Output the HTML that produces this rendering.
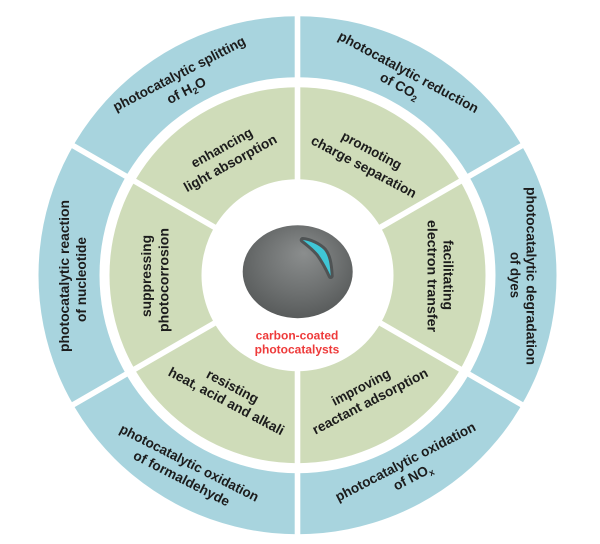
<!DOCTYPE html>
<html>
<head>
<meta charset="utf-8">
<style>
  html, body { margin: 0; padding: 0; background: #ffffff; }
  svg { display: block; }
  .t { font-family: "Liberation Sans", Arial, sans-serif; font-weight: bold; font-size: 13.7px; fill: #1c1c1c; }
  .r { font-family: "Liberation Sans", Arial, sans-serif; font-weight: bold; font-size: 12px; fill: #ee3a3a; }
</style>
</head>
<body>
<svg width="600" height="544" viewBox="0 0 600 544" xmlns="http://www.w3.org/2000/svg">
  <defs>
    <radialGradient id="sph" cx="0.5" cy="0.42" r="0.6" fx="0.56" fy="0.3">
      <stop offset="0" stop-color="#8b8e8e"/>
      <stop offset="0.6" stop-color="#6d7070"/>
      <stop offset="1" stop-color="#575a5a"/>
    </radialGradient>
  </defs>

  <!-- rings -->
  <circle cx="297.5" cy="275.2" r="259" fill="#a8d4de"/>
  <circle cx="297.5" cy="275.2" r="198" fill="#ffffff"/>
  <circle cx="297.5" cy="275.2" r="188" fill="#cfdcb9"/>
  <circle cx="297.5" cy="275.2" r="96" fill="#ffffff"/>

  <!-- segment gaps -->
  <g stroke="#ffffff" stroke-width="5.6">
    <line x1="297.5" y1="0" x2="297.5" y2="544"/>
    <line x1="557.3" y1="125.2" x2="37.7" y2="425.2"/>
    <line x1="37.7" y1="125.2" x2="557.3" y2="425.2"/>
  </g>

  <!-- sphere -->
  <ellipse cx="297.7" cy="271.7" rx="55" ry="46.5" fill="url(#sph)"/>
  <path d="M302.7,240 C310,240.5 319,245 324,250 C328,255 330,262 330.7,276 C328,270 324,262 318.3,254 C314,249 308,244 302.7,240 Z"
        fill="#4f5354" stroke="#4f5354" stroke-width="6" stroke-linejoin="round"/>
  <path d="M302.7,240 C310,240.5 319,245 324,250 C328,255 330,262 330.7,276 C328,270 324,262 318.3,254 C314,249 308,244 302.7,240 Z"
        fill="#3fc6d6"/>

  <text class="r" x="297" y="339.3" text-anchor="middle">carbon-coated</text>
  <text class="r" x="297" y="353.3" text-anchor="middle">photocatalysts</text>

  <g class="t" text-anchor="middle">
    <!-- blue ring -->
    <text transform="translate(181.3 77.8) rotate(-27.4)" textLength="147" lengthAdjust="spacingAndGlyphs">photocatalytic splitting</text>
    <text transform="translate(188.5 94.5) rotate(-27.4)">of H<tspan font-size="9" dy="3">2</tspan><tspan dy="-3">O</tspan></text>

    <text transform="translate(406.3 76.2) rotate(28.3)" textLength="157" lengthAdjust="spacingAndGlyphs">photocatalytic reduction</text>
    <text transform="translate(397.5 90) rotate(28.3)">of CO<tspan font-size="9" dy="3">2</tspan></text>

    <text transform="translate(526.3 276) rotate(90)" textLength="178" lengthAdjust="spacingAndGlyphs">photocatalytic degradation</text>
    <text transform="translate(510.5 275) rotate(90)" textLength="46" lengthAdjust="spacingAndGlyphs">of dyes</text>

    <text transform="translate(68.8 276) rotate(-90)" textLength="152" lengthAdjust="spacingAndGlyphs">photocatalytic reaction</text>
    <text transform="translate(86 279.5) rotate(-90)" textLength="85" lengthAdjust="spacingAndGlyphs">of nucleotide</text>

    <text transform="translate(187.2 467) rotate(27)" textLength="154" lengthAdjust="spacingAndGlyphs">photocatalytic oxidation</text>
    <text transform="translate(179.5 482.5) rotate(27)" textLength="106" lengthAdjust="spacingAndGlyphs">of formaldehyde</text>

    <text transform="translate(407.5 465.8) rotate(-27.4)" textLength="156" lengthAdjust="spacingAndGlyphs">photocatalytic oxidation</text>
    <text transform="translate(415 481) rotate(-27.4)">of NO<tspan font-size="9" dy="3">x</tspan></text>

    <!-- green ring -->
    <text transform="translate(224 151.7) rotate(-29)" textLength="68" lengthAdjust="spacingAndGlyphs">enhancing</text>
    <text transform="translate(232.5 167.2) rotate(-29)" textLength="104" lengthAdjust="spacingAndGlyphs">light absorption</text>

    <text transform="translate(369.5 154.5) rotate(28)" textLength="66" lengthAdjust="spacingAndGlyphs">promoting</text>
    <text transform="translate(361.7 170.8) rotate(28)" textLength="117" lengthAdjust="spacingAndGlyphs">charge separation</text>

    <text transform="translate(443.5 275) rotate(90)" textLength="70" lengthAdjust="spacingAndGlyphs">facilitating</text>
    <text transform="translate(427.5 276) rotate(90)" textLength="112" lengthAdjust="spacingAndGlyphs">electron transfer</text>

    <text transform="translate(151 276) rotate(-90)" textLength="82" lengthAdjust="spacingAndGlyphs">suppressing</text>
    <text transform="translate(168.5 280) rotate(-90)" textLength="104" lengthAdjust="spacingAndGlyphs">photocorrosion</text>

    <text transform="translate(230.5 390.5) rotate(28)" textLength="57" lengthAdjust="spacingAndGlyphs">resisting</text>
    <text transform="translate(224.2 405.3) rotate(28)" textLength="129" lengthAdjust="spacingAndGlyphs">heat, acid and alkali</text>

    <text transform="translate(363 391.3) rotate(-27.4)" textLength="64" lengthAdjust="spacingAndGlyphs">improving</text>
    <text transform="translate(372.2 405.3) rotate(-27.4)" textLength="128" lengthAdjust="spacingAndGlyphs">reactant adsorption</text>
  </g>
</svg>
</body>
</html>
